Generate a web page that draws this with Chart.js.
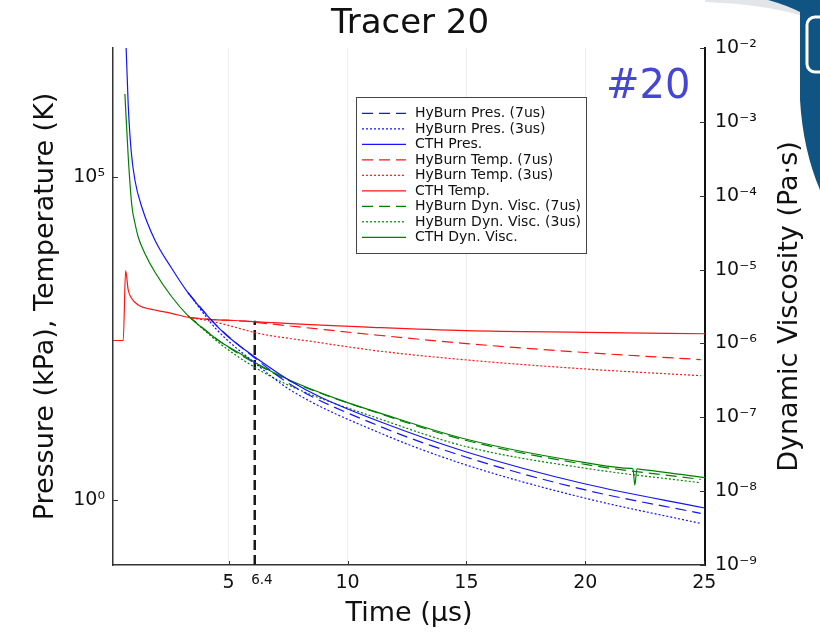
<!DOCTYPE html>
<html>
<head>
<meta charset="utf-8">
<title>Tracer 20</title>
<script src="https://cdn.jsdelivr.net/npm/chart.js@4.4.1/dist/chart.umd.min.js"></script>
<style>
  html, body { margin: 0; padding: 0; background: #fff; }
</style>
</head>
<body>
<canvas id="tracerChart" width="820" height="634"></canvas>
<script>
// time axis (us)
const xTicks = [5, 6.4, 10, 15, 20, 25];
const markerLabel = 6.4;
const markerT = [6.1, 6.1];
const markerY = [0.1, 600];

// left axis ticks (kPa, K) and right axis ticks (Pa.s)
const leftTicks = [1, 1e5];
const rightTicks = [1e-9, 1e-8, 1e-7, 1e-6, 1e-5, 1e-4, 1e-3, 1e-2];

// pressure (kPa)
const cthPresT = [0.66, 0.78, 0.90, 1.06, 1.35, 1.9, 2.6, 3.3, 4.15, 4.85, 5.7, 6.1, 7.6, 8.85, 11.4, 15.0, 20.0, 25.03];
const cthPres = [2.2e7, 1.31e6, 2.64e5, 9.06e4, 3.47e4, 1.07e4, 3.94e3, 1.62e3, 689, 375, 212, 166, 70.3, 39.8, 16.3, 5.61, 1.79, 0.762];
const hbPres7T = [3.3, 4.5, 6.1, 7.6, 11.4, 15.0, 20.0, 24.85];
const hbPres7 = [1.62e3, 507, 160, 62, 13.8, 4.65, 1.45, 0.63];
const hbPres3T = [3.3, 4.5, 6.1, 7.6, 11.4, 15.0, 20.0, 24.85];
const hbPres3 = [1.62e3, 440, 134, 51, 10.9, 3.52, 1.08, 0.44];

// temperature (K)
const cthTempT = [0.14, 0.57, 0.67, 0.78, 0.92, 1.2, 1.9, 2.6, 3.3, 4.15, 5.7, 6.1, 11.4, 15.0, 20.0, 25.03];
const cthTemp = [298, 298, 3580, 1800, 1340, 1055, 883, 785, 681, 634, 597, 582, 470, 423, 399, 379];
const hbTemp7T = [3.3, 4.15, 5.7, 6.1, 7.6, 11.4, 15.0, 20.0, 24.85];
const hbTemp7 = [681, 634, 592, 570, 499, 356, 267, 194, 151];
const hbTemp3T = [3.3, 4.36, 5.7, 6.1, 8.57, 11.4, 15.0, 20.0, 24.85];
const hbTemp3 = [681, 582, 433, 394, 285, 203, 149, 108, 85];

// dynamic viscosity (Pa.s)
const cthViscT = [0.64, 0.78, 0.93, 1.07, 1.2, 1.49, 1.9, 2.6, 3.3, 4.0, 4.7, 5.7, 6.1, 7.6, 9.7, 11.4, 15.0, 20.0, 21.93, 22.0, 22.08, 22.17, 22.25, 25.03];
const cthVisc = [2.38e-3, 3.37e-4, 7.48e-5, 4.14e-5, 2.76e-5, 1.63e-5, 9.27e-6, 4.32e-6, 2.36e-6, 1.52e-6, 1.03e-6, 6.65e-7, 5.52e-7, 3.15e-7, 1.71e-7, 1.13e-7, 5.04e-8, 2.43e-8, 2.03e-8, 2.01e-8, 1.21e-8, 2.0e-8, 1.99e-8, 1.52e-8];
const hbVisc7T = [3.3, 4.7, 6.1, 7.6, 11.4, 15.0, 20.0, 24.85];
const hbVisc7 = [2.36e-6, 1.03e-6, 5.4e-7, 3.08e-7, 1.11e-7, 4.85e-8, 2.3e-8, 1.44e-8];
const hbVisc3T = [3.3, 4.7, 6.1, 7.6, 11.4, 15.0, 20.0, 24.85];
const hbVisc3 = [2.36e-6, 9.6e-7, 4.75e-7, 2.65e-7, 9.4e-8, 4.0e-8, 2.04e-8, 1.30e-8];

const FONT = 'DejaVu Sans';
const DASH = [11, 6];
const DOT = [2, 2];

function pts(ts, vs) {
	return ts.map((t, i) => ({x: t, y: vs[i]}));
}

const supMap = {'-': '\u207B', '0': '\u2070', '1': '\u00B9', '2': '\u00B2', '3': '\u00B3', '4': '\u2074',
	'5': '\u2075', '6': '\u2076', '7': '\u2077', '8': '\u2078', '9': '\u2079'};
function powLabel(v) {
	const e = Math.round(Math.log10(v));
	return '10' + String(e).split('').map(c => supMap[c]).join('');
}

function series(label, ts, vs, color, dash, axis) {
	return {
		label: label,
		data: pts(ts, vs),
		borderColor: color,
		borderWidth: 1.2,
		borderDash: dash,
		yAxisID: axis,
		pointRadius: 0,
		fill: false,
		cubicInterpolationMode: 'monotone'
	};
}

// legend drawn inside the plot, like the original
const boxLegend = {
	id: 'boxLegend',
	afterDatasetsDraw(chart) {
		const ctx = chart.ctx;
		const items = chart.data.datasets.filter(d => d.label);
		const x0 = 356, y0 = 97, w = 230, h = 156;
		ctx.save();
		ctx.fillStyle = '#fff';
		ctx.fillRect(x0, y0, w, h);
		ctx.strokeStyle = '#444';
		ctx.lineWidth = 1;
		ctx.strokeRect(x0 + 0.5, y0 + 0.5, w, h);
		ctx.font = '14px "' + FONT + '"';
		ctx.textBaseline = 'middle';
		items.forEach((d, i) => {
			const y = y0 + 16.3 + i * 15.5;
			ctx.strokeStyle = d.borderColor;
			ctx.lineWidth = d.borderWidth;
			ctx.setLineDash(d.borderDash || []);
			ctx.beginPath();
			ctx.moveTo(x0 + 6, y);
			ctx.lineTo(x0 + 50, y);
			ctx.stroke();
			ctx.setLineDash([]);
			ctx.fillStyle = '#111';
			ctx.fillText(d.label, x0 + 59, y + 0.5);
		});
		ctx.restore();
	}
};

// inward tick marks, right axis title, tracer tag and the logo corner
const decor = {
	id: 'decor',
	beforeDraw(chart) {
		const ctx = chart.ctx;
		ctx.save();
		ctx.fillStyle = '#e3e6e9';
		ctx.beginPath();
		ctx.moveTo(705, 0);
		ctx.lineTo(768, 0);
		ctx.quadraticCurveTo(786, 5, 800, 12);
		ctx.lineTo(800, 15);
		ctx.quadraticCurveTo(760, 4, 705, 2);
		ctx.closePath();
		ctx.fill();
		ctx.fillStyle = '#0f5482';
		ctx.beginPath();
		ctx.moveTo(768, 0);
		ctx.lineTo(820, 0);
		ctx.lineTo(820, 190);
		ctx.quadraticCurveTo(803, 150, 800, 100);
		ctx.lineTo(800, 12);
		ctx.quadraticCurveTo(786, 5, 768, 0);
		ctx.closePath();
		ctx.fill();
		ctx.strokeStyle = '#fff';
		ctx.lineWidth = 3;
		ctx.beginPath();
		ctx.roundRect(807, 17, 24, 55, 8);
		ctx.stroke();
		ctx.restore();
	},
	afterDraw(chart) {
		const {ctx, chartArea: a, scales} = chart;
		ctx.save();
		ctx.strokeStyle = '#333';
		ctx.lineWidth = 1;
		ctx.beginPath();
		scales.x.ticks.forEach(t => {
			if (t.value === markerLabel) return;
			const px = Math.round(scales.x.getPixelForValue(t.value)) + 0.5;
			ctx.moveTo(px, a.bottom);
			ctx.lineTo(px, a.bottom - 4);
		});
		scales.y.ticks.forEach(t => {
			const py = Math.round(scales.y.getPixelForValue(t.value)) + 0.5;
			ctx.moveTo(a.left, py);
			ctx.lineTo(a.left + 5, py);
		});
		scales.y2.ticks.forEach(t => {
			const py = Math.round(scales.y2.getPixelForValue(t.value)) + 0.5;
			ctx.moveTo(a.right, py);
			ctx.lineTo(a.right - 5, py);
		});
		ctx.stroke();

		ctx.fillStyle = '#111';
		ctx.font = '27px "' + FONT + '"';
		ctx.textAlign = 'center';
		ctx.textBaseline = 'middle';
		ctx.translate(790, (a.top + a.bottom) / 2);
		ctx.rotate(-Math.PI / 2);
		ctx.fillText('Dynamic Viscosity (Pa\u00B7s)', 0, 0);
		ctx.restore();

		ctx.save();
		ctx.fillStyle = 'rgb(70,70,212)';
		ctx.font = '40px "' + FONT + '"';
		ctx.textBaseline = 'alphabetic';
		ctx.fillText('#20', 606, 98);
		ctx.restore();
	}
};

Chart.defaults.font.family = FONT;
Chart.defaults.color = '#111';

const ctx = document.getElementById('tracerChart').getContext('2d');
const tracerChart = new Chart(ctx, {
	type: 'line',
	data: {
		datasets: [
			series('HyBurn Pres. (7us)', hbPres7T, hbPres7, 'rgb(20,20,255)', DASH, 'y'),
			series('HyBurn Pres. (3us)', hbPres3T, hbPres3, 'rgb(20,20,255)', DOT, 'y'),
			series('CTH Pres.', cthPresT, cthPres, 'rgb(20,20,255)', [], 'y'),
			series('HyBurn Temp. (7us)', hbTemp7T, hbTemp7, 'rgb(255,20,20)', DASH, 'y'),
			series('HyBurn Temp. (3us)', hbTemp3T, hbTemp3, 'rgb(255,20,20)', DOT, 'y'),
			series('CTH Temp.', cthTempT, cthTemp, 'rgb(255,20,20)', [], 'y'),
			series('HyBurn Dyn. Visc. (7us)', hbVisc7T, hbVisc7, 'rgb(0,128,0)', DASH, 'y2'),
			series('HyBurn Dyn. Visc. (3us)', hbVisc3T, hbVisc3, 'rgb(0,128,0)', DOT, 'y2'),
			series('CTH Dyn. Visc.', cthViscT, cthVisc, 'rgb(0,128,0)', [], 'y2'),
			{
				data: pts(markerT, markerY),
				borderColor: '#1a1a1a',
				borderWidth: 2.5,
				borderDash: [10, 5],
				yAxisID: 'y',
				pointRadius: 0,
				fill: false
			}
		]
	},
	options: {
		responsive: false,
		animation: false,
		layout: {padding: 0},
		plugins: {
			legend: {display: false},
			tooltip: {enabled: false},
			title: {
				display: true,
				text: 'Tracer 20',
				color: '#111',
				font: {size: 34, weight: 'normal'},
				padding: {top: 4, bottom: 3.2}
			}
		},
		scales: {
			x: {
				type: 'linear',
				min: 0.14,
				max: 25.03,
				afterBuildTicks: s => { s.ticks = xTicks.map(v => ({value: v})); },
				afterFit: s => { s.height = 69; },
				ticks: {
					autoSkip: false,
					maxRotation: 0,
					padding: 7,
					color: '#111',
					callback: v => String(v),
					font: c => ({size: c.tick && c.tick.value === markerLabel ? 13.5 : 19})
				},
				grid: {
					drawTicks: false,
					color: c => (c.tick && c.tick.value === markerLabel) ? 'rgba(0,0,0,0)' : 'rgba(0,0,0,0.07)'
				},
				border: {color: '#333', width: 1.5},
				title: {
					display: true,
					text: 'Time (\u03BCs)',
					font: {size: 27},
					padding: {top: 0, bottom: 4}
				}
			},
			y: {
				type: 'logarithmic',
				position: 'left',
				min: 0.1,
				max: 1e7,
				afterBuildTicks: s => { s.ticks = leftTicks.map(v => ({value: v})); },
				afterFit: s => { s.width = 113; },
				ticks: {
					autoSkip: false,
					padding: 8,
					color: '#111',
					font: {size: 19},
					callback: v => powLabel(v)
				},
				grid: {display: false, drawTicks: false},
				border: {color: '#333', width: 1.5},
				title: {
					display: true,
					text: 'Pressure (kPa), Temperature (K)',
					font: {size: 27},
					padding: {top: 30, bottom: 0}
				}
			},
			y2: {
				type: 'logarithmic',
				position: 'right',
				min: 1e-9,
				max: 1e-2,
				afterBuildTicks: s => { s.ticks = rightTicks.map(v => ({value: v})); },
				afterFit: s => { s.width = 115; },
				ticks: {
					autoSkip: false,
					padding: 10,
					color: '#111',
					font: {size: 19},
					callback: v => powLabel(v)
				},
				grid: {display: false, drawTicks: false},
				border: {color: '#111', width: 2}
			}
		}
	},
	plugins: [boxLegend, decor]
});
</script>
</body>
</html>
